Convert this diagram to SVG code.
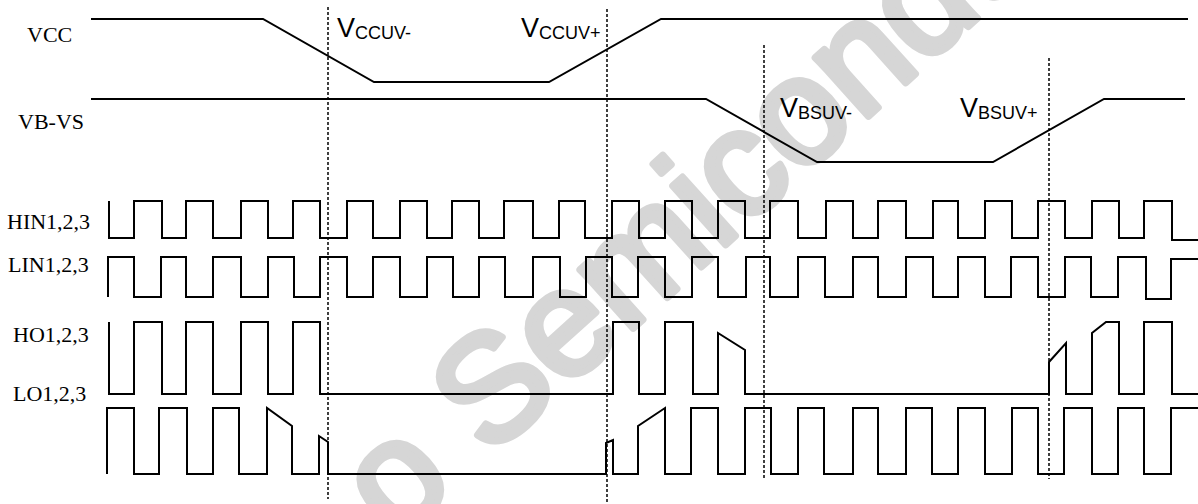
<svg xmlns="http://www.w3.org/2000/svg" width="1198" height="504" viewBox="0 0 1198 504">
<style>
.bg{fill:#ffffff}
.wm{font-family:"Liberation Sans",Arial,sans-serif;font-size:150px;fill:#d6d6d6;stroke:#d6d6d6;stroke-width:7;stroke-linejoin:round}
.lbl{font-family:"Liberation Serif","Times New Roman",serif;font-size:22px;fill:#000}
.uv{font-family:"Liberation Sans",Arial,sans-serif;font-size:27px;fill:#000}
.sub{font-size:18px}
.w{fill:none;stroke:#000;stroke-width:2;stroke-linejoin:miter}
.d{fill:none;stroke:#000;stroke-width:1.5;stroke-dasharray:3 2}
</style>
<rect class="bg" x="0" y="0" width="1198" height="504"/>
<g id="watermark">
<text class="wm" transform="translate(489,458) rotate(-42)" x="-125" y="0">o Semicondu</text>
</g>
<g id="vcc">
<text class="lbl" x="27" y="42">VCC</text>
<path class="w" d="M91,19 H263 L374,82 H549 L661,19 H1188"/>
</g>
<g id="vbvs">
<text class="lbl" x="18" y="129">VB-VS</text>
<path class="w" d="M91,99 H706 L817,162 H993 L1104,99 H1185"/>
</g>
<g id="hin">
<text class="lbl" x="7" y="229">HIN1,2,3</text>
<path class="w" d="M109,201 V238 H134 V201 H162 V238 H186 V201 H213 V238 H241 V201 H268 V238 H293 V201 H320 V238 H347 V201 H373 V238 H400 V201 H427 V238 H452 V201 H479 V238 H504 V201 H533 V238 H559 V201 H585 V238 H612 V201 H639 V238 H665 V201 H692 V238 H718 V201 H745 V238 H770 V201 H798 V238 H826 V201 H853 V238 H878 V201 H906 V238 H933 V201 H958 V238 H985 V201 H1012 V238 H1038 V201 H1065 V238 H1092 V201 H1119 V238 H1144 V201 H1172 V240 H1198"/>
</g>
<g id="lin">
<text class="lbl" x="8" y="272">LIN1,2,3</text>
<path class="w" d="M108,297 V257 H134 V297 H161 V257 H186 V297 H213 V257 H241 V297 H268 V257 H294 V297 H320 V257 H347 V297 H373 V257 H400 V297 H427 V257 H453 V297 H479 V257 H505 V297 H533 V257 H560 V297 H586 V257 H612 V297 H638 V257 H665 V297 H692 V257 H718 V297 H746 V257 H770 V297 H798 V257 H825 V297 H853 V257 H878 V297 H906 V257 H933 V297 H958 V257 H985 V297 H1011 V257 H1038 V297 H1065 V257 H1091 V297 H1118 V257 H1146 V299 H1171 V259 H1198"/>
</g>
<g id="ho">
<text class="lbl" x="13" y="342">HO1,2,3</text>
<path class="w" d="M109,322 V394 H134 V322 H162 V394 H186 V322 H213 V394 H241 V322 H268 V394 H293 V322 H320 V394 H613 V322 H639 V394 H665 V322 H693 V394 H718 V333 L745,350 V394 H1049 V362 L1066,343 V394 H1092 V333 L1106,322 H1119 V394 H1144 V322 H1172 V394 H1198"/>
</g>
<g id="lo">
<text class="lbl" x="13" y="401">LO1,2,3</text>
<path class="w" d="M107,474 V408 H134 V474 H159 V408 H187 V474 H213 V408 H239 V474 H267 V408 L292,426 V474 H319 V436 L328,442 V474 H606 V443 L613,440 V474 H638 V426 L665,408 V474 H691 V408 H718 V474 H745 V408 H771 V474 H798 V408 H824 V474 H853 V408 H878 V474 H906 V408 H932 V474 H958 V408 H985 V474 H1012 V408 H1038 V474 H1064 V408 H1092 V474 H1118 V408 H1144 V474 H1171 V408 H1198"/>
</g>
<g id="thresholds">
<text class="uv" x="337" y="37">V<tspan class="sub" dy="2">CCUV-</tspan></text>
<text class="uv" x="521" y="37">V<tspan class="sub" dy="2">CCUV+</tspan></text>
<text class="uv" x="780" y="117">V<tspan class="sub" dy="2">BSUV-</tspan></text>
<text class="uv" x="960" y="117">V<tspan class="sub" dy="2">BSUV+</tspan></text>
</g>
<g id="connectors">
<line class="d" x1="328" y1="7" x2="328" y2="499"/>
<line class="d" x1="607" y1="9" x2="607" y2="504"/>
<line class="d" x1="764" y1="45" x2="764" y2="479"/>
<line class="d" x1="1049" y1="58" x2="1049" y2="479"/>
</g>
</svg>
